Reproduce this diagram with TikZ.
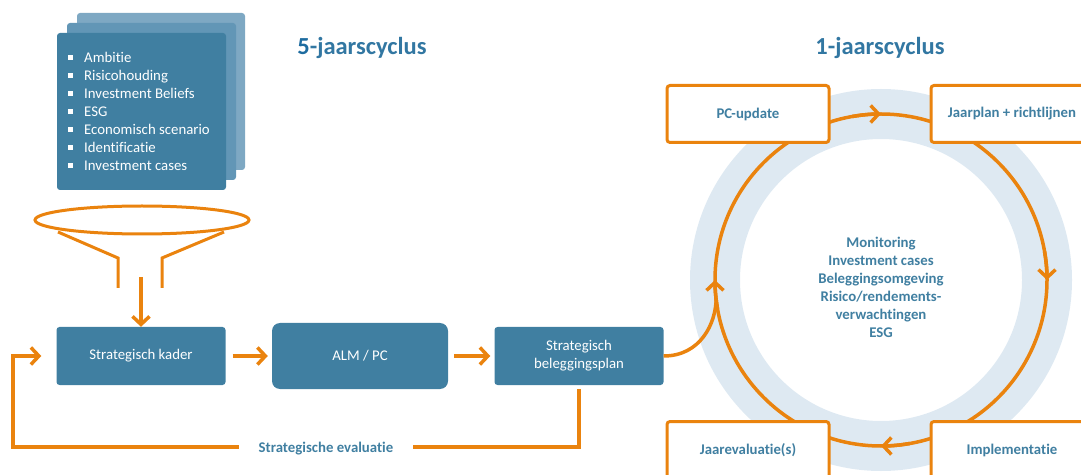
\documentclass[tikz,border=0pt]{standalone}
\usepackage{fontspec}
\setmainfont{Carlito}[Ligatures=NoCommon]
\usetikzlibrary{arrows.meta,positioning}
\definecolor{petrol}{RGB}{64,127,161}
\definecolor{petrolmid}{RGB}{98,150,182}
\definecolor{petrollicht}{RGB}{126,168,195}
\definecolor{oranje}{RGB}{234,131,14}
\definecolor{ringblauw}{RGB}{222,233,242}
\definecolor{titelblauw}{RGB}{50,119,162}
\definecolor{cijferblauw}{RGB}{30,108,160}
\tikzset{
  blok/.style={fill=petrol, rounded corners=3pt, text=white, minimum width=169pt, minimum height=58pt, align=center, font=\fontsize{14.8}{18}\selectfont},
  kader/.style={draw=oranje, fill=white, line width=3pt, rounded corners=3pt, minimum width=162pt, minimum height=57pt, text=petrol, font=\bfseries\fontsize{14.8}{18}\selectfont},
  lijn/.style={draw=oranje, line width=3.5pt},
  pijl/.style={lijn, -{Straight Barb[length=8pt,width=17pt]}},
  titel/.style={text=titelblauw, font=\bfseries\fontsize{24.5}{28}\selectfont}
}
\begin{document}
\begin{tikzpicture}[x=1pt,y=1pt]
	\useasboundingbox (0,0) rectangle (1081,474);
	% stapel met uitgangspunten
	\fill [petrollicht, rounded corners=3pt] (77,304) rectangle (245,461);
	\fill [petrolmid, rounded corners=3pt] (67,294) rectangle (236,451);
	\fill [petrol, rounded corners=3pt] (57,284) rectangle (226,441);
	\foreach \tekst [count=\i] in {Ambitie,Risicohouding,Investment Beliefs,ESG,Economisch scenario,Identificatie,Investment cases} {
		\fill [white] (67.5,{416-18*(\i-1)-2.5}) rectangle ++(5,5);
		\node [anchor=base west, text=white, inner sep=0, font=\fontsize{14.8}{18}\selectfont] (punt\i) at (84,{416-18*(\i-1)-5}) {\tekst};
	}
	\node [titel] (vijfjaar) at (362,426) {{\color{cijferblauw}5}-jaarscyclus};
	\node [titel] (eenjaar) at (880,426) {1-jaarscyclus};
	% trechter
	\draw [lijn, line width=3pt] (142,254) ellipse [x radius=107, y radius=14];
	\draw [lijn, line width=3pt] (58,242) -- (118,216) -- (118,186);
	\draw [lijn, line width=3pt] (224,242) -- (162,216) -- (162,186);
	\coordinate (trechter) at (141,197);
	% 5-jaarscyclus
	\node [blok] (kader) at (141,118) {Strategisch kader};
	\node [blok, rounded corners=8pt, minimum width=176pt, minimum height=66pt] (alm) at (360,118) {ALM / PC};
	\node [blok] (sbp) at (579,118) {Strategisch\\beleggingsplan};
	\draw [pijl] (trechter) -- (kader.north);
	\draw [pijl, shorten <=7pt, shorten >=4pt] (kader) -- (alm);
	\draw [pijl, shorten <=6pt, shorten >=4pt] (alm) -- (sbp);
	\node [text=petrol, font=\bfseries\fontsize{14.8}{18}\selectfont, inner xsep=20pt] (evaluatie) at (326,25) {Strategische evaluatie};
	\coordinate (terug) at (13,27);
	\draw [lijn, shorten <=4pt] (sbp.south) |- (evaluatie.east |- terug);
	\draw [pijl, shorten >=15pt] (evaluatie.west |- terug) -- (terug) |- (kader.west);
	% 1-jaarscyclus
	\draw [ringblauw, line width=50pt] (881,194) circle [radius=166];
	\draw [lijn] (881,194) circle [radius=166];
	\foreach \hoek in {100,10,280,190}
		\draw [pijl] (881,194) ++(\hoek:166) arc [start angle=\hoek, end angle=\hoek-10, radius=166];
	\draw [lijn] (sbp.east) .. controls (700,118) and (716,150) .. (716.2,176);
	\node [kader] (pcupdate) at (748,360) {PC-update};
	\node [kader] (jaarplan) at (1012,360) {Jaarplan + richtlijnen};
	\node [kader] (jaarevaluatie) at (748,24) {Jaarevaluatie(s)};
	\node [kader] (implementatie) at (1012,24) {Implementatie};
	\node [text=petrol, align=center, font=\bfseries\fontsize{14.8}{18}\selectfont] (monitoring) at (881,187) {Monitoring\\Investment cases\\Beleggingsomgeving\\Risico/rendements-\\verwachtingen\\ESG};
\end{tikzpicture}
\end{document}
